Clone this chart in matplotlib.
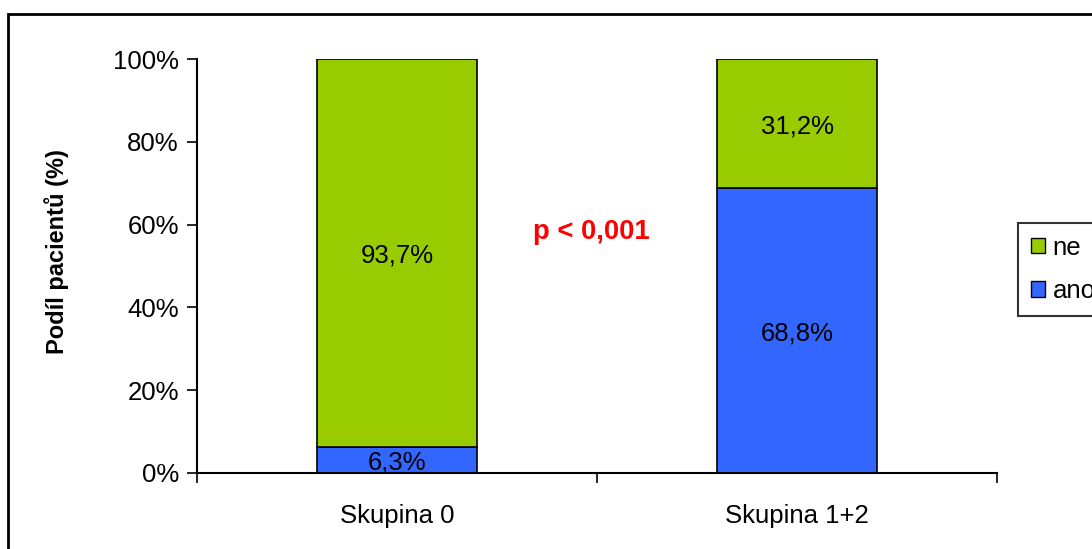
import matplotlib
matplotlib.use("Agg")
import matplotlib.pyplot as plt
from matplotlib.patches import Rectangle, Patch

plt.rcParams['font.family'] = ['Liberation Sans', 'DejaVu Sans']

categories = ["Skupina 0", "Skupina 1+2"]
ano = [6.3, 68.8]
ne = [93.7, 31.2]
series_names = ["ano", "ne"]
colors = {"ano": "#3366FF", "ne": "#99CC00"}
yticks = [0, 20, 40, 60, 80, 100]
ytick_labels = ["0%", "20%", "40%", "60%", "80%", "100%"]
p_text = "p < 0,001"

W, H = 1092, 549
fig = plt.figure(figsize=(W / 100, H / 100), dpi=100)
fig.patches.append(Rectangle((8 / W, -0.1), 1.2, 1 - 14 / H + 0.1, transform=fig.transFigure,
                             fill=False, edgecolor="black", linewidth=2))

ax = fig.add_axes([197 / W, 1 - 473 / H, (997 - 197) / W, (473 - 59) / H])
x = list(range(len(categories)))
ax.bar(x, ano, width=0.4, color=colors["ano"], edgecolor="black", linewidth=1.2)
ax.bar(x, ne, width=0.4, bottom=ano, color=colors["ne"], edgecolor="black", linewidth=1.2)

fs = 18.5
for i in x:
    ax.text(i, ano[i] / 2 - 0.6, f"{ano[i]:.1f}%".replace(".", ","), ha="center", va="center", fontsize=fs)
    ax.text(i, ano[i] + ne[i] / 2 - 0.6, f"{ne[i]:.1f}%".replace(".", ","), ha="center", va="center", fontsize=fs)

ax.set_xlim(-0.5, 1.5)
ax.set_ylim(0, 100)
ax.set_yticks(yticks)
ax.set_yticklabels(ytick_labels, fontsize=fs)
ax.set_xticks([-0.5, 0.5, 1.5])
ax.set_xticklabels([])
ax.set_xticks(x, minor=True)
ax.set_xticklabels(categories, minor=True, fontsize=fs)
ax.tick_params(axis="x", which="minor", length=0, pad=22)
ax.tick_params(axis="x", which="major", length=7, width=1.2, direction="out")
ax.tick_params(axis="y", length=7, width=1.2, direction="out", pad=6)
for s in ["top", "right"]:
    ax.spines[s].set_visible(False)
for s in ["left", "bottom"]:
    ax.spines[s].set_linewidth(1.5)
ax.set_ylabel("Podíl pacientů (%)", fontsize=17, fontweight="bold")
ax.yaxis.set_label_coords(-0.16, 0.535)

ax.text(0.485, 58.2, p_text, ha="center", va="center", color="#FF0000", fontsize=19.8, fontweight="bold")

handles = [Patch(facecolor=colors["ne"], edgecolor="black"), Patch(facecolor=colors["ano"], edgecolor="black")]
leg = fig.legend(handles, ["ne", "ano"], loc="upper left", bbox_to_anchor=(1018 / W, 1 - 223 / H),
                 fontsize=fs, frameon=True, fancybox=False, edgecolor="black", handlelength=0.55,
                 handleheight=0.55, handletextpad=0.3, labelspacing=0.75, borderpad=0.5,
                 borderaxespad=0)
leg.get_frame().set_linewidth(1.5)

fig.savefig("out.png", dpi=100)
